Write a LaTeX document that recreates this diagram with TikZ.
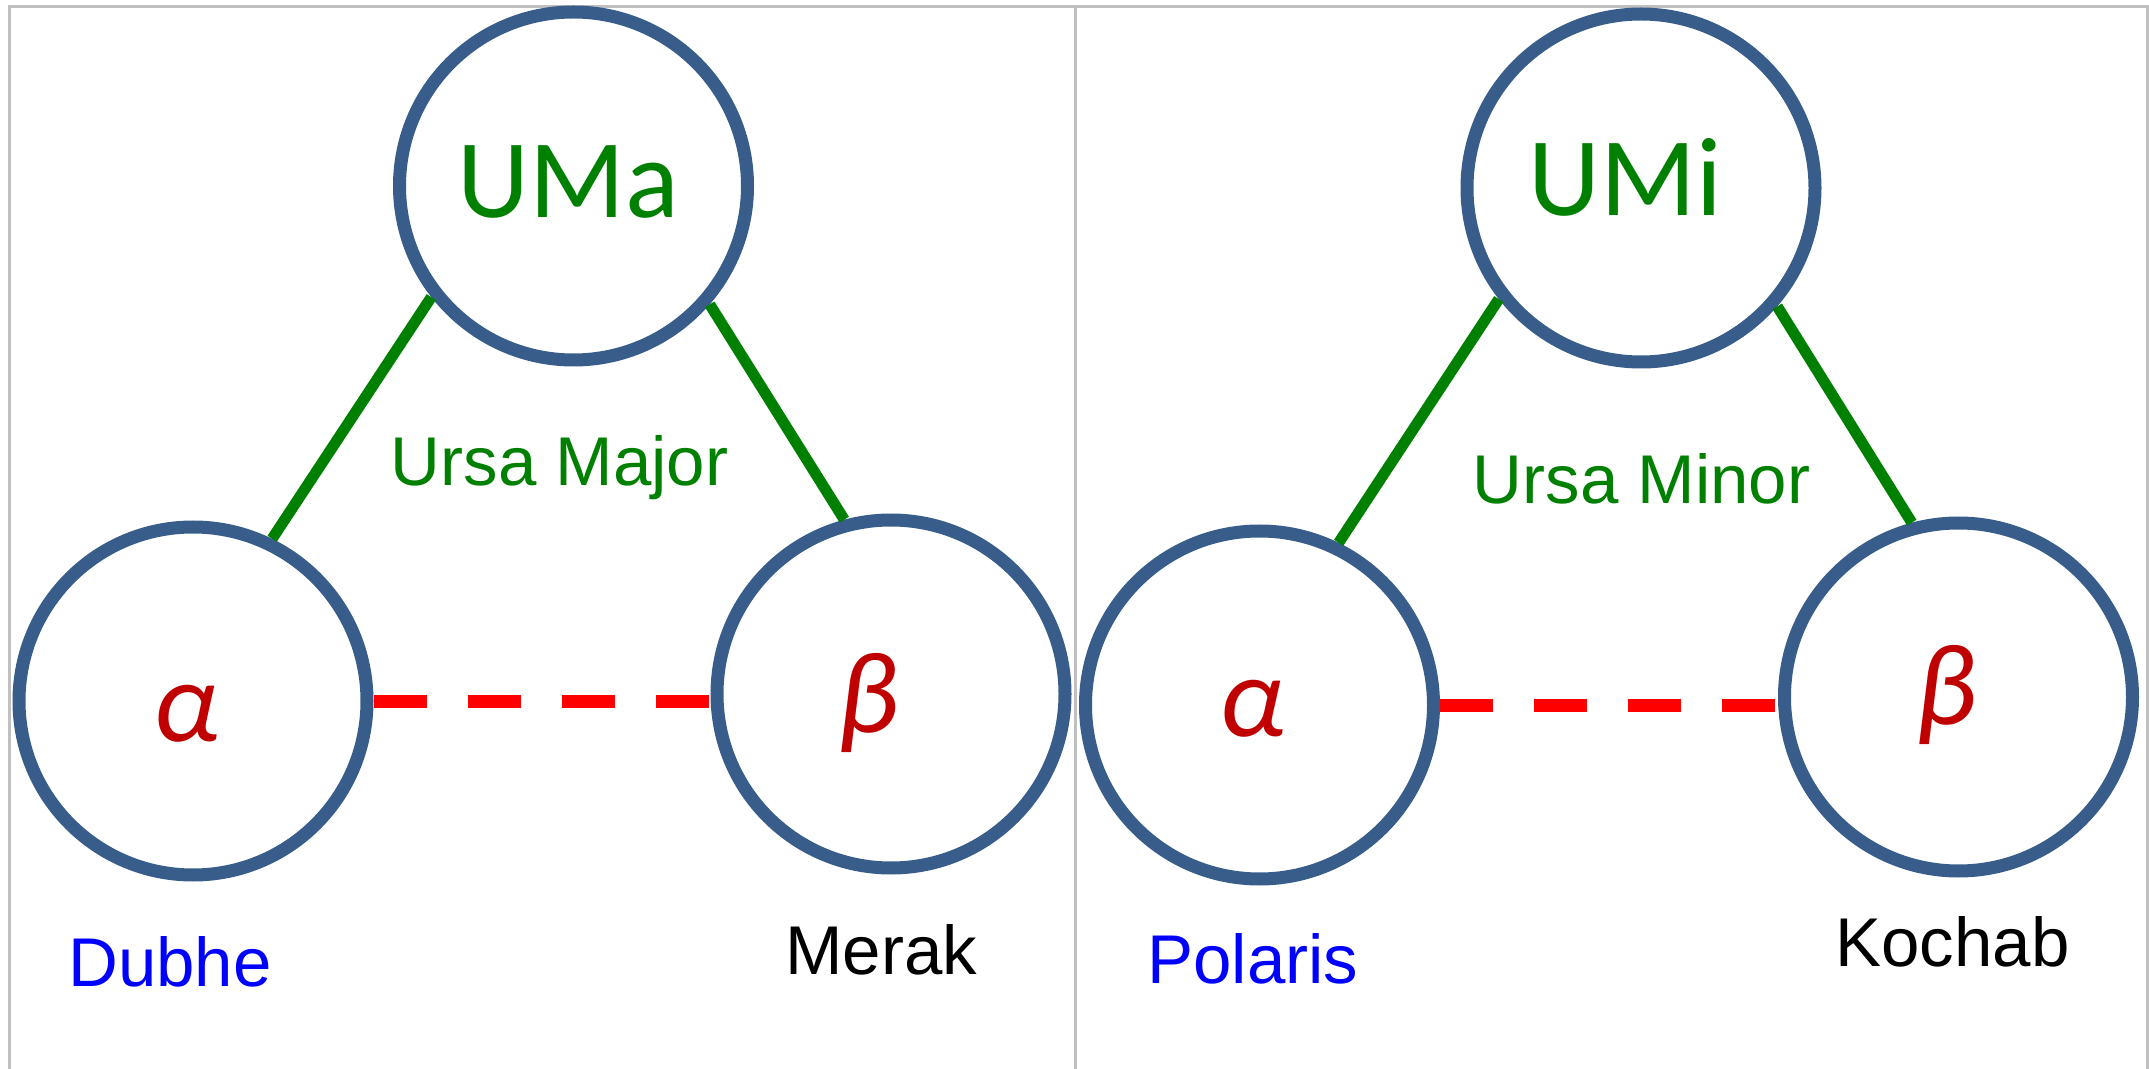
\documentclass[tikz,border=0pt]{standalone}
\usepackage{fontspec}
\setmainfont{Liberation Sans}
\newfontfamily\calfont{Carlito}
\definecolor{ringblue}{HTML}{385D8A}
\definecolor{lgreen}{HTML}{008000}
\definecolor{greekred}{HTML}{C00000}
\definecolor{framegray}{HTML}{C0C0C0}
\tikzset{
  star/.style={circle, draw=ringblue, line width=6.5pt, minimum size=174pt, inner sep=0pt},
  link/.style={draw=lgreen, line width=5.5pt},
  pair/.style={draw=red, line width=6.5pt, dash pattern=on 26.5pt off 20.5pt},
  abbr/.style={anchor=base, inner sep=0pt, text=lgreen, font=\calfont\fontsize{56}{66}\selectfont},
  greek/.style={anchor=base, inner sep=0pt, text=greekred, font=\calfont\itshape\fontsize{58}{68}\selectfont},
  cname/.style={anchor=base, inner sep=0pt, text=lgreen, font=\fontsize{34.5}{40}\selectfont},
  sname/.style={anchor=base west, inner sep=0pt, font=\fontsize{34.5}{40}\selectfont},
  frame/.style={draw=framegray, line width=1.5pt}
}
\begin{document}
\begin{tikzpicture}[x=0.5pt, y=-0.5pt]
\useasboundingbox (0,0) rectangle (2149,1069);
% frame
\coordinate (ftl) at (9.5,7);
\coordinate (ftr) at (2147,7);
\coordinate (fbl) at (9.5,1069);
\coordinate (fbr) at (2147,1069);
\coordinate (fdt) at (1075.5,7);
\coordinate (fdb) at (1075.5,1069);
\draw[frame] (fbl) -- (ftl) -- (ftr) -- (fbr);
\draw[frame] (fdt) -- (fdb);
% circles
\node[star] (UMa) at (573.5,186) {};
\node[star] (a1) at (193,701) {};
\node[star] (b1) at (891,694) {};
\node[star] (UMi) at (1641,188) {};
\node[star] (a2) at (1259.5,705) {};
\node[star] (b2) at (1958.5,697) {};
% connectors
\draw[link] (UMa.218.4) -- (a1.64.7);
\draw[link] (UMa.319.4) -- (b1.105);
\draw[link] (UMi.218.3) -- (a2.64.7);
\draw[link] (UMi.319.2) -- (b2.105.5);
\draw[pair] (a1.east) -- (a1.east -| b1.west);
\draw[pair] (a2.east) -- (a2.east -| b2.west);
% texts
\node[abbr] (tUMa) at (568.5,218) {UMa};
\node[abbr] (tUMi) at (1625,216) {UMi};
\node[greek] (ta1) at (186,741) {α};
\node[greek] (tb1) at (868,733) {β};
\node[greek] (ta2) at (1252,736) {α};
\node[greek] (tb2) at (1946,725) {β};
\node[cname] (cUMa) at (559.5,486) {Ursa Major};
\node[cname] (cUMi) at (1641.5,504) {Ursa Minor};
\node[sname, text=blue] (nDubhe) at (68,986) {Dubhe};
\node[sname] (nMerak) at (785,974) {Merak};
\node[sname, text=blue] (nPolaris) at (1147,983) {Polaris};
\node[sname] (nKochab) at (1835,966) {Kochab};
\end{tikzpicture}
\end{document}
